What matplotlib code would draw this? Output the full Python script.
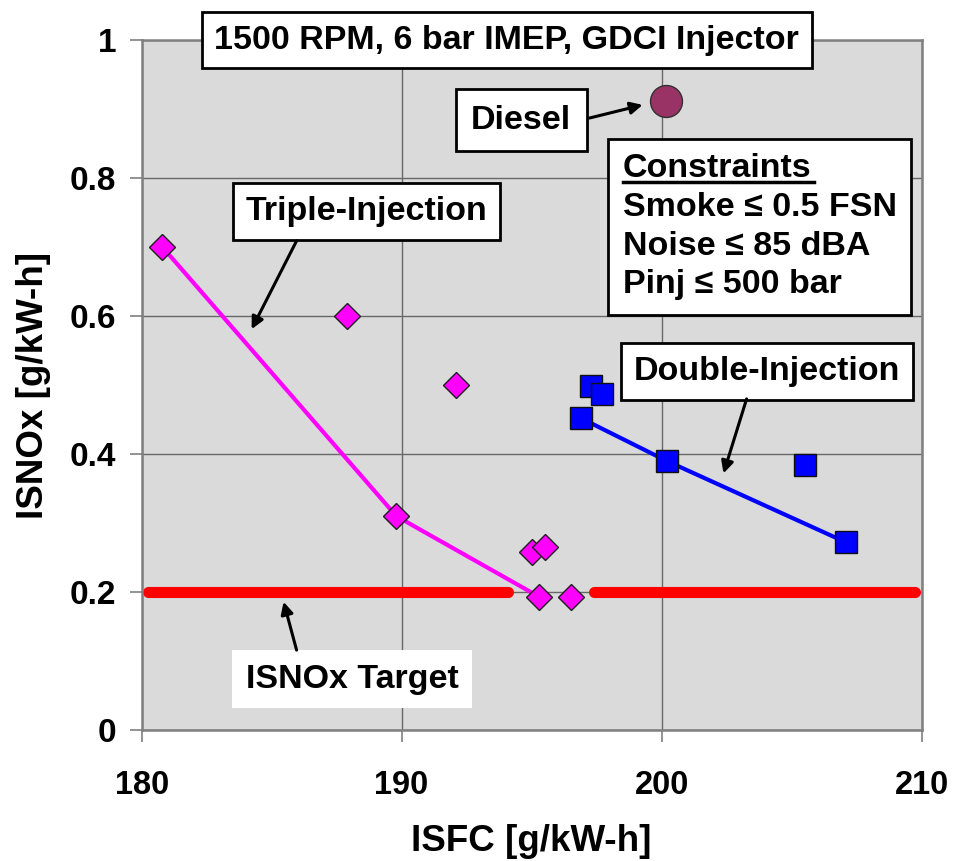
import matplotlib
matplotlib.use('Agg')
import matplotlib.pyplot as plt
from matplotlib.lines import Line2D

plt.rcParams['font.family'] = ['Liberation Sans', 'DejaVu Sans']
plt.rcParams['font.weight'] = 'bold'

# triple-injection sweep (magenta diamonds)
triple_isfc = [180.8, 187.9, 192.1, 189.8, 195.0, 195.5, 195.3, 196.5]
triple_nox = [0.70, 0.60, 0.50, 0.31, 0.258, 0.265, 0.193, 0.193]
# best-points line for triple injection
triple_line_isfc = [180.8, 189.8, 195.3]
triple_line_nox = [0.70, 0.31, 0.193]

# double-injection sweep (blue squares)
double_isfc = [197.3, 197.7, 196.9, 200.2, 205.5, 207.1]
double_nox = [0.499, 0.487, 0.452, 0.390, 0.384, 0.272]
double_line_isfc = [196.9, 200.2, 207.1]
double_line_nox = [0.452, 0.390, 0.272]

# diesel reference
diesel_isfc = [200.15]
diesel_nox = [0.912]

# ISNOx target (line broken around the triple-injection points)
target = 0.2
target_segments = [(180.25, 194.1), (197.4, 209.75)]

xticks = [180, 190, 200, 210]
yticks = [0, 0.2, 0.4, 0.6, 0.8, 1.0]
ytick_labels = ['0', '0.2', '0.4', '0.6', '0.8', '1']

fig = plt.figure(figsize=(9.57, 8.61), dpi=100)
ax = fig.add_axes([0.148, 0.152, 0.815, 0.8015])
ax.set_facecolor('#dadada')

for x0, x1 in target_segments:
    ax.plot([x0, x1], [target, target], color='#ff0000', lw=8,
            solid_capstyle='round', zorder=2)

ax.plot(triple_line_isfc, triple_line_nox, color='#ff00ff', lw=3, zorder=3)
ax.plot(double_line_isfc, double_line_nox, color='#0000ff', lw=3, zorder=3)
ax.plot(triple_isfc, triple_nox, ls='none', marker='D', ms=13.5,
        mfc='#ff00ff', mec='#202020', mew=1.0, zorder=4, clip_on=False)
ax.plot(double_isfc, double_nox, ls='none', marker='s', ms=16,
        mfc='#0000ff', mec='#101010', mew=1.0, zorder=4)
ax.plot(diesel_isfc, diesel_nox, ls='none', marker='o', ms=23,
        mfc='#993366', mec='#303030', mew=1.0, zorder=4)

ax.set_xlim(180, 210)
ax.set_ylim(0, 1)
ax.set_xticks(xticks)
ax.set_yticks(yticks)
ax.set_yticklabels(ytick_labels)
ax.grid(True, color='#686868', lw=1.0)
ax.set_axisbelow(True)
for s in ax.spines.values():
    s.set_color('#808080')
    s.set_linewidth(1.8)
ax.tick_params(axis='both', direction='out', length=8.5, width=1.2,
               color='#808080')
ax.tick_params(axis='x', pad=20, labelsize=23.5)
ax.tick_params(axis='y', pad=10, labelsize=24)
ax.set_xlabel('ISFC [g/kW-h]', fontsize=26.5, fontweight='bold', labelpad=17)
ax.set_ylabel('ISNOx [g/kW-h]', fontsize=26.5, fontweight='bold', labelpad=13)

fs = 24.5
box = dict(boxstyle='square,pad=0.38', fc='white', ec='black', lw=2)

ax.text(194.05, 1.0, '1500 RPM, 6 bar IMEP, GDCI Injector', fontsize=fs,
        ha='center', va='center', bbox=box, zorder=6, clip_on=False)
ax.text(194.6, 0.884, 'Diesel', fontsize=fs, ha='center', va='center',
        bbox=dict(boxstyle='square,pad=0.45', fc='white', ec='black', lw=2),
        zorder=6)
ax.text(188.65, 0.751, 'Triple-Injection', fontsize=fs, ha='center',
        va='center', bbox=box, zorder=6)
ax.text(204.05, 0.520, 'Double-Injection', fontsize=fs, ha='center',
        va='center', bbox=box, zorder=6)
ax.text(188.1, 0.074, 'ISNOx Target', fontsize=fs, ha='center',
        va='center', bbox=dict(boxstyle='square,pad=0.4', fc='white',
                               ec='none'), zorder=6)

cons_x, cons_y = 198.5, 0.836
cons = ax.text(cons_x, cons_y, 'Constraints\nSmoke \u2264 0.5 FSN\n'
               'Noise \u2264 85 dBA\nPinj \u2264 500 bar', fontsize=fs,
               ha='left', va='top', linespacing=1.32, zorder=6,
               bbox=dict(boxstyle='square,pad=0.42', fc='white', ec='black',
                         lw=2))

arrow = dict(arrowstyle='-|>', color='black', lw=2.2, mutation_scale=18,
             shrinkA=0, shrinkB=0)
ax.annotate('', xy=(199.27, 0.906), xytext=(197.23, 0.887),
            arrowprops=arrow, zorder=7)
ax.annotate('', xy=(184.23, 0.581), xytext=(185.96, 0.709),
            arrowprops=arrow, zorder=7)
ax.annotate('', xy=(202.38, 0.372), xytext=(203.27, 0.480),
            arrowprops=arrow, zorder=7)
ax.annotate('', xy=(185.46, 0.186), xytext=(185.96, 0.116),
            arrowprops=arrow, zorder=7)

# underline the "Constraints" heading
fig.canvas.draw()
r = fig.canvas.get_renderer()
probe = ax.text(cons_x, cons_y, 'Constraints', fontsize=fs, ha='left',
                va='top', alpha=0)
bb = probe.get_window_extent(r)
inv = fig.transFigure.inverted()
(x0, y0), (x1, _) = inv.transform([(bb.x0, bb.y0 + 2), (bb.x1 + 3, bb.y0)])
fig.add_artist(Line2D([x0, x1], [y0, y0], color='black', lw=2.5, zorder=8))

fig.savefig('out.png', dpi=100)
